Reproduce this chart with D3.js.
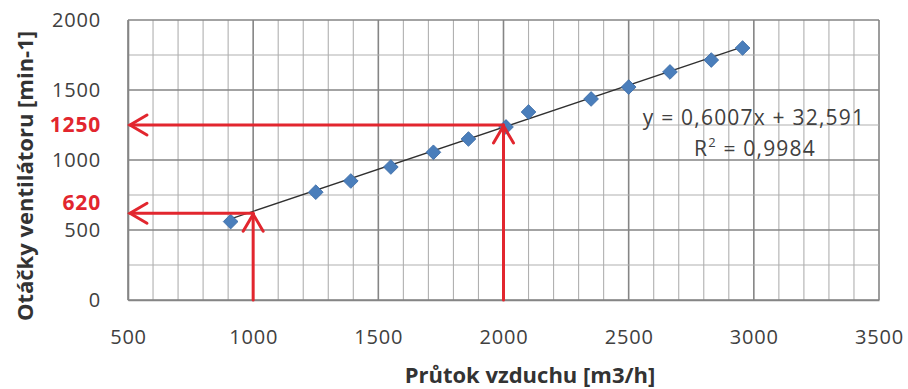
<!DOCTYPE html>
<html>
<head>
<meta charset="utf-8">
<script src="https://cdn.jsdelivr.net/npm/d3@7"></script>
<style>
  html, body { margin: 0; padding: 0; background: #fff; }
  svg { display: block; }
  text { font-family: "Open Sans", "Liberation Sans", sans-serif; }
</style>
</head>
<body>
<svg id="chart" width="908" height="389"></svg>
<script>
// Measured air flow [m3/h] vs. fan speed [min-1]
const flow  = [910, 1250, 1390, 1550, 1720, 1860, 2010, 2100, 2350, 2500, 2665, 2830, 2955];
const speed = [560, 770, 850, 950, 1055, 1150, 1236, 1343, 1436, 1521, 1629, 1714, 1800];

// Linear trend fitted to the measurements
const slope = 0.6007;
const intercept = 32.591;
const rSquared = 0.9984;

// Read-off examples: flow -> speed
const readFlow  = [1000, 2000];
const readSpeed = [620, 1250];

const xTicks = [500, 1000, 1500, 2000, 2500, 3000, 3500];
const yTicks = [0, 500, 1000, 1500, 2000];

const xTitle = "Průtok vzduchu [m3/h]";
const yTitle = "Otáčky ventilátoru [min-1]";

const svg = d3.select("#chart");
const m = { left: 128, right: 879, top: 20, bottom: 300 };

const x = d3.scaleLinear().domain([500, 3500]).range([m.left, m.right]);
const y = d3.scaleLinear().domain([0, 2000]).range([m.bottom, m.top]);

const fmt = v => String(v);
const red = "#e2262e";

// grid: minor lines first, then major ones
const grid = svg.append("g");
d3.range(500, 3501, 100).forEach(v => {
  const major = v % 500 === 0;
  grid.append("line")
    .attr("x1", x(v)).attr("x2", x(v)).attr("y1", y(0)).attr("y2", y(2000))
    .attr("stroke", major ? "#858585" : "#b0b0b0")
    .attr("stroke-width", major ? 1.6 : 1.1);
});
d3.range(0, 2001, 250).forEach(v => {
  const major = v % 500 === 0;
  grid.append("line")
    .attr("x1", x(500)).attr("x2", x(3500)).attr("y1", y(v)).attr("y2", y(v))
    .attr("stroke", major ? "#858585" : "#b0b0b0")
    .attr("stroke-width", major ? 1.6 : 1.1);
});

// axes
const xAxis = d3.axisBottom(x).tickValues(xTicks).tickFormat(fmt).tickSize(0).tickPadding(30);
const gx = svg.append("g").attr("transform", `translate(0,${m.bottom})`).call(xAxis);
gx.select(".domain").attr("stroke", "#858585").attr("stroke-width", 1.6);
gx.selectAll("text").attr("font-size", 20).attr("fill", "#404040")
  .attr("letter-spacing", "0.8px").attr("font-family", "'Open Sans', sans-serif");

const yAxis = d3.axisLeft(y).tickValues(yTicks).tickFormat(fmt).tickSize(0).tickPadding(27);
const gy = svg.append("g").attr("transform", `translate(${m.left},0)`).call(yAxis);
gy.select(".domain").attr("stroke", "#858585").attr("stroke-width", 1.6);
gy.selectAll("text").attr("font-size", 20).attr("fill", "#404040")
  .attr("letter-spacing", "0.8px").attr("font-family", "'Open Sans', sans-serif");

// highlighted speed values on the y axis
const shift = [-10, 0];
svg.append("g").selectAll("text").data(readSpeed).join("text")
  .attr("x", m.left - 27)
  .attr("y", (d, i) => y(d) + shift[i])
  .attr("dy", "0.34em")
  .attr("text-anchor", "end")
  .attr("font-size", 21)
  .attr("font-weight", "bold")
  .attr("letter-spacing", "0.8px")
  .attr("fill", red)
  .text(fmt);

// trend line over the measured range
const trend = d3.line().x(d => x(d)).y(d => y(slope * d + intercept));
svg.append("path")
  .attr("d", trend([d3.min(flow), d3.max(flow)]))
  .attr("fill", "none")
  .attr("stroke", "#303030")
  .attr("stroke-width", 1.3);

// measured points
const sym = d3.symbol().type(d3.symbolSquare).size(108);
svg.append("g").selectAll("path").data(flow).join("path")
  .attr("d", sym)
  .attr("transform", (d, i) => `translate(${x(d)},${y(speed[i])}) rotate(45)`)
  .attr("fill", "#4a7ebb")
  .attr("stroke", "#3a6aa5")
  .attr("stroke-width", 0.8);

// read-off arrows: up from the flow value, then left to the speed axis
const arr = svg.append("g").attr("stroke", red).attr("stroke-width", 3)
  .attr("fill", "none").attr("stroke-linecap", "round");
readFlow.forEach((f, i) => {
  const px = x(f), py = y(readSpeed[i]);
  arr.append("line").attr("x1", px).attr("x2", px).attr("y1", y(0)).attr("y2", py);
  arr.append("path").attr("d", `M${px - 10},${py + 18}L${px},${py + 1}L${px + 10},${py + 18}`);
  arr.append("line").attr("x1", px).attr("x2", x(500) + 2).attr("y1", py).attr("y2", py);
  arr.append("path").attr("d", `M${x(500) + 19},${py - 10}L${x(500) + 2},${py}L${x(500) + 19},${py + 10}`);
});

// regression label
const eq = svg.append("g").attr("fill", "#404040").attr("font-size", 21)
  .attr("letter-spacing", "1.2px").attr("text-anchor", "middle");
eq.append("text").attr("x", 754).attr("y", 125)
  .text(`y = ${String(slope).replace(".", ",")}x + ${String(intercept).replace(".", ",")}`);
const r2 = eq.append("text").attr("x", 755).attr("y", 156);
r2.append("tspan").text("R");
r2.append("tspan").attr("font-size", 13).attr("dy", -9).text("2");
r2.append("tspan").attr("dy", 9).text(` = ${String(rSquared).replace(".", ",")}`);

// axis titles
svg.append("text")
  .attr("x", 530).attr("y", 383)
  .attr("text-anchor", "middle")
  .attr("font-size", 22).attr("font-weight", "bold").attr("fill", "#333")
  .text(xTitle);
svg.append("text")
  .attr("transform", "translate(33,176) rotate(-90)")
  .attr("text-anchor", "middle")
  .attr("font-size", 22).attr("font-weight", "bold").attr("fill", "#333")
  .text(yTitle);
</script>
</body>
</html>
